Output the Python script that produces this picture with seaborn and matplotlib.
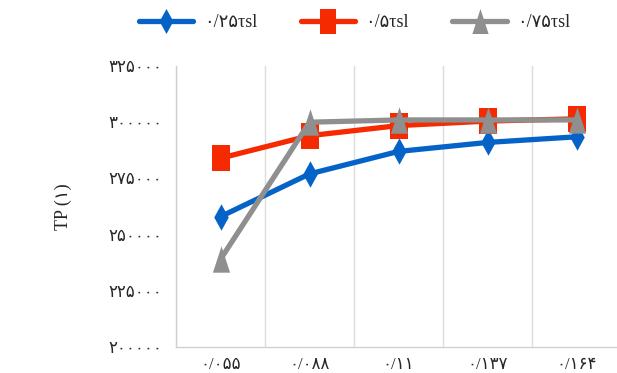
import matplotlib
matplotlib.use("Agg")
import matplotlib.pyplot as plt
from matplotlib.lines import Line2D
import pandas as pd
import seaborn as sns

# Categories along the x axis (Persian numerals)
categories = ["۰/۰۵۵", "۰/۰۸۸", "۰/۱۱", "۰/۱۳۷", "۰/۱۶۴"]

# Series values
series_names = ["۰/۲۵τsl", "۰/۵τsl", "۰/۷۵τsl"]
tp_025 = [258000, 277000, 287000, 291000, 293500]
tp_050 = [284000, 294000, 298500, 300500, 301500]
tp_075 = [239000, 300000, 301000, 301000, 301000]

# Y tick values and their labels
y_ticks = [200000, 225000, 250000, 275000, 300000, 325000]
y_tick_labels = ["۲۰۰۰۰۰", "۲۲۵۰۰۰", "۲۵۰۰۰۰", "۲۷۵۰۰۰", "۳۰۰۰۰۰", "۳۲۵۰۰۰"]
y_label = "TP (۱)"

colors = ["#0563c8", "#f52a00", "#8f8f8f"]

# Narrow marker shapes
diamond = [(0, 1), (0.55, 0), (0, -1), (-0.55, 0), (0, 1)]
square = [(-0.65, -1), (0.65, -1), (0.65, 1), (-0.65, 1), (-0.65, -1)]
triangle = [(-0.65, -1), (0.65, -1), (0, 1), (-0.65, -1)]
marker_shapes = [diamond, square, triangle]

rows = []
for name, vals in zip(series_names, [tp_025, tp_050, tp_075]):
    for i, v in enumerate(vals):
        rows.append({"x": i, "series": name, "tp": v})
df = pd.DataFrame(rows)

sns.set_theme(style="white")
fam = ["Liberation Serif", "DejaVu Sans"]
plt.rcParams["font.family"] = fam

fig = plt.figure(figsize=(6.17, 3.73), dpi=100)
ax = fig.add_axes([176 / 617, 26 / 373, 445 / 617, 281 / 373])

for name, col, mk in zip(series_names, colors, marker_shapes):
    sub = df[df["series"] == name]
    sns.lineplot(data=sub, x="x", y="tp", ax=ax, color=col, linewidth=3.8,
                 marker=mk, markersize=19, markeredgewidth=0,
                 markerfacecolor=col, legend=False, clip_on=False)

ax.set_xlim(-0.5, 4.5)
ax.set_ylim(200000, 325000)
ax.set_xticks(range(len(categories)))
ax.set_xticklabels(categories, fontsize=12, family=fam)
ax.set_yticks(y_ticks)
ax.set_yticklabels(y_tick_labels, fontsize=12, family=fam)
ax.set_xticks([i + 0.5 for i in range(-1, len(categories))], minor=True)
ax.tick_params(axis="both", which="both", length=0)
ax.tick_params(axis="y", pad=10)
ax.tick_params(axis="x", pad=7)
ax.grid(False)
ax.grid(True, which="minor", axis="x", color="#dcdcdc", linewidth=1)
ax.set_xlabel("")
ax.set_ylabel(y_label, fontsize=13, family=fam, labelpad=26)

for side in ["top", "right"]:
    ax.spines[side].set_visible(False)
for side in ["left", "bottom"]:
    ax.spines[side].set_color("#d0d0d0")
    ax.spines[side].set_linewidth(1)

handles = [Line2D([0], [0], color=c, linewidth=3.8, marker=m, markersize=18,
                  markeredgewidth=0, markerfacecolor=c)
           for c, m in zip(colors, marker_shapes)]
fig.legend(handles, series_names, loc="center", bbox_to_anchor=(0.575, 0.94),
           ncol=3, frameon=False, handlelength=3.0, columnspacing=2.4,
           handletextpad=0.6, prop={"family": fam, "size": 13})

fig.savefig("out.png", dpi=100)
